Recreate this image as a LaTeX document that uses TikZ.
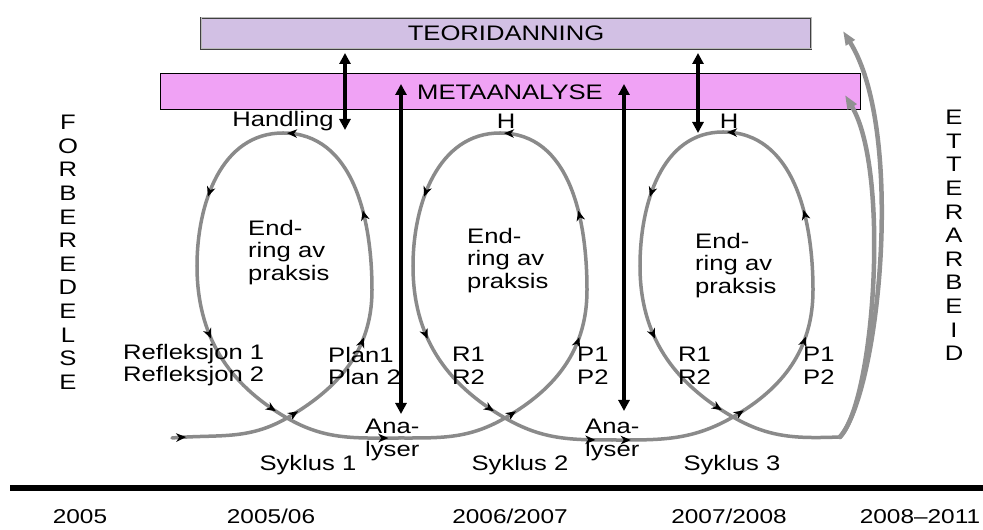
\documentclass[tikz,border=0pt]{standalone}
\usepackage{fontspec}
\setmainfont{Liberation Sans}
\newfontfamily\widefont{Liberation Sans}[FakeStretch=1.22]
\newfontfamily\yearfont{Liberation Sans}[FakeStretch=1.22]
\usetikzlibrary{arrows.meta,decorations.markings}
\definecolor{loopgray}{RGB}{138,138,138}
\definecolor{feedgray}{RGB}{145,145,145}
\definecolor{teorifill}{RGB}{210,192,228}
\definecolor{metafill}{RGB}{240,162,245}
\tikzset{
  txt/.style={font=\widefont\fontsize{21}{22.5}\selectfont, inner sep=0pt},
  multi/.style={txt, align=left, anchor=north west},
  vert/.style={font=\widefont\fontsize{21}{23.6}\selectfont, inner sep=0pt, align=center, anchor=north},
  year/.style={font=\yearfont\fontsize{20}{22}\selectfont, inner sep=0pt, anchor=base},
  loopline/.style={draw=loopgray, line width=3.5pt, line cap=round},
  tipat/.style={postaction={decorate, decoration={markings,
      mark=at position #1 with {\arrow{Stealth[length=10pt,width=8.5pt,inset=3pt,color=black]}}}}},
  bigarrow/.style={line width=3.2pt, {Triangle[length=11pt,width=11pt]}-{Triangle[length=11pt,width=11pt]}},
  backarrow/.style={draw=feedgray, line width=4.5pt, line cap=round, -{Triangle[length=14pt,width=10pt]}},
}
\begin{document}
\begin{tikzpicture}[x=1pt,y=1pt]
\useasboundingbox (0,0) rectangle (983,530);
\fill[white] (0,0) rectangle (983,530);

% banners
\node[txt, draw=black!75, double=gray!55, double distance=1pt, fill=teorifill,
      minimum width=610pt, minimum height=31pt] (teori) at (506,496.5) {TEORIDANNING};
\node[txt, draw=black, line width=1pt, fill=metafill,
      minimum width=700pt, minimum height=36pt] (meta) at (510,438) {METAANALYSE};

% loop coordinates
\coordinate (S)  at (172,92);
\coordinate (C1) at (287,112);
\coordinate (R1) at (372,240);
\coordinate (T1) at (283,397);
\coordinate (L1) at (197,264);
\coordinate (D1) at (400,92);
\coordinate (C2) at (505,112);
\coordinate (R2) at (587,240);
\coordinate (T2) at (500,397);
\coordinate (L2) at (413,264);
\coordinate (D2) at (612,90);
\coordinate (C3) at (733,113);
\coordinate (R3) at (813,240);
\coordinate (T3) at (723,398);
\coordinate (L3) at (640,264);
\coordinate (E)  at (840,93);

% loop 1
\draw[loopline, tipat=0.12] (S) to[out=5,in=210] (C1);
\draw[loopline, tipat=0.08, tipat=0.7] (C1) to[out=30,in=270] (R1);
\draw[loopline, tipat=0.4, tipat=0.98] (R1) to[out=90,in=0] (T1);
\draw[loopline, tipat=0.6] (T1) to[out=180,in=90] (L1);
\draw[loopline, tipat=0.4, tipat=0.93] (L1) to[out=270,in=150] (C1);
\draw[loopline, tipat=0.9] (C1) to[out=-30,in=180] (D1);
% loop 2
\draw[loopline] (D1) to[out=0,in=210] (C2);
\draw[loopline, tipat=0.08, tipat=0.7] (C2) to[out=30,in=270] (R2);
\draw[loopline, tipat=0.4, tipat=0.98] (R2) to[out=90,in=0] (T2);
\draw[loopline, tipat=0.6] (T2) to[out=180,in=90] (L2);
\draw[loopline, tipat=0.4, tipat=0.93] (L2) to[out=270,in=150] (C2);
\draw[loopline, tipat=0.85] (C2) to[out=-30,in=180] (D2);
% loop 3
\draw[loopline, tipat=0.15] (D2) to[out=0,in=210] (C3);
\draw[loopline, tipat=0.08, tipat=0.7] (C3) to[out=30,in=270] (R3);
\draw[loopline, tipat=0.4, tipat=0.98] (R3) to[out=90,in=0] (T3);
\draw[loopline, tipat=0.6] (T3) to[out=180,in=90] (L3);
\draw[loopline, tipat=0.4, tipat=0.93] (L3) to[out=270,in=150] (C3);
\draw[loopline] (C3) to[out=-30,in=182] (E);

% feedback curves
\coordinate (FbT) at (843,499);
\coordinate (FbM) at (845,435);
\draw[backarrow] (E) .. controls (880,140) and (905,400) .. (FbT);
\draw[backarrow] (E) .. controls (875,130) and (890,360) .. (FbM);

% black arrows
\coordinate (A1t) at (345,477);
\coordinate (A1b) at (345,400);
\coordinate (A2t) at (698,477);
\coordinate (A2b) at (698,397);
\coordinate (A3t) at (401,446);
\coordinate (A3b) at (401,116);
\coordinate (A4t) at (624,446);
\coordinate (A4b) at (624,119);
\draw[bigarrow] (A1t) -- (A1b);
\draw[bigarrow] (A2t) -- (A2b);
\draw[bigarrow] (A3t) -- (A3b);
\draw[bigarrow] (A4t) -- (A4b);

% labels at loop tops
\node[txt] (hand) at (283,409) {Handling};
\node[txt] (h2) at (506,409) {H};
\node[txt] (h3) at (729,409) {H};

% inner texts
\node[multi] (end1) at (248,310) {End-\\ring av\\praksis};
\node[multi] (end2) at (467,302) {End-\\ring av\\praksis};
\node[multi] (end3) at (695,297) {End-\\ring av\\praksis};

\node[multi] (refl) at (123,186) {Refleksjon 1\\Refleksjon 2};
\node[multi] (plan) at (328,183) {Plan1\\Plan 2};
\node[multi] (r2) at (452,183) {R1\\R2};
\node[multi] (p2) at (577,183) {P1\\P2};
\node[multi] (r3) at (678,183) {R1\\R2};
\node[multi] (p3) at (803,183) {P1\\P2};

\node[multi] (ana1) at (365,111) {Ana-\\lyser};
\node[multi] (ana2) at (585,111) {Ana-\\lyser};

\node[txt] (syk1) at (308,65) {Syklus 1};
\node[txt] (syk2) at (520,65) {Syklus 2};
\node[txt] (syk3) at (732,65) {Syklus 3};

% side texts
\node[vert] (forb) at (68,415) {F\\O\\R\\B\\E\\R\\E\\D\\E\\L\\S\\E};
\node[vert] (etter) at (954,420) {E\\T\\T\\E\\R\\A\\R\\B\\E\\I\\D};

% timeline
\coordinate (tlA) at (10,42);
\coordinate (tlB) at (983,42);
\draw[line width=6pt] (tlA) -- (tlB);
\node[year] (y1) at (80,6) {2005};
\node[year] (y2) at (271,6) {2005/06};
\node[year] (y3) at (510,6) {2006/2007};
\node[year] (y4) at (729,6) {2007/2008};
\node[year] (y5) at (920,6) {2008–2011};
\end{tikzpicture}
\end{document}
